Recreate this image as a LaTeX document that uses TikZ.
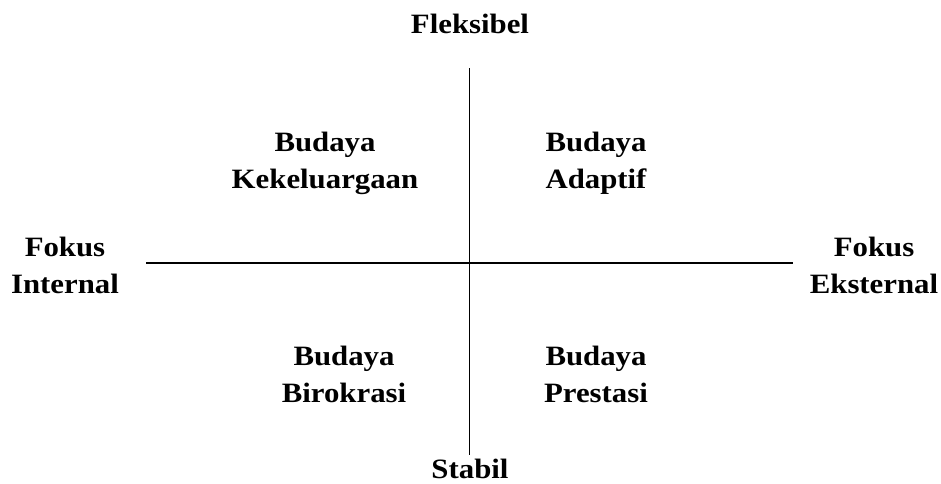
\documentclass[tikz,border=0pt]{standalone}
\usepackage{fontspec}
\setmainfont{Liberation Serif}[FakeStretch=1.1]
\begin{document}
\begin{tikzpicture}[x=1pt,y=-1pt,
  lbl/.style={inner sep=0pt,align=center,anchor=base,font=\fontsize{28}{36.5}\selectfont\bfseries},
  axis/.style={line width=1.4pt,black}]
\useasboundingbox (0,0) rectangle (941,483);
\coordinate (vt) at (469.5,68);
\coordinate (vb) at (469.5,455);
\coordinate (hl) at (146,263);
\coordinate (hr) at (793,263);
\draw[axis] (vt) -- (vb);
\draw[axis] (hl) -- (hr);
\node[lbl] (flex) at (470,33) {Fleksibel};
\node[lbl,text depth=0pt] (stab) at (470,478) {Stabil};
\node[lbl] (fint) at (65,293) {Fokus\\Internal};
\node[lbl] (fext) at (874,293) {Fokus\\Eksternal};
\node[lbl] (kek) at (325,188) {Budaya\\Kekeluargaan};
\node[lbl] (ada) at (596,188) {Budaya\\Adaptif};
\node[lbl] (bir) at (344,402) {Budaya\\Birokrasi};
\node[lbl] (pre) at (596,402) {Budaya\\Prestasi};
\end{tikzpicture}
\end{document}
